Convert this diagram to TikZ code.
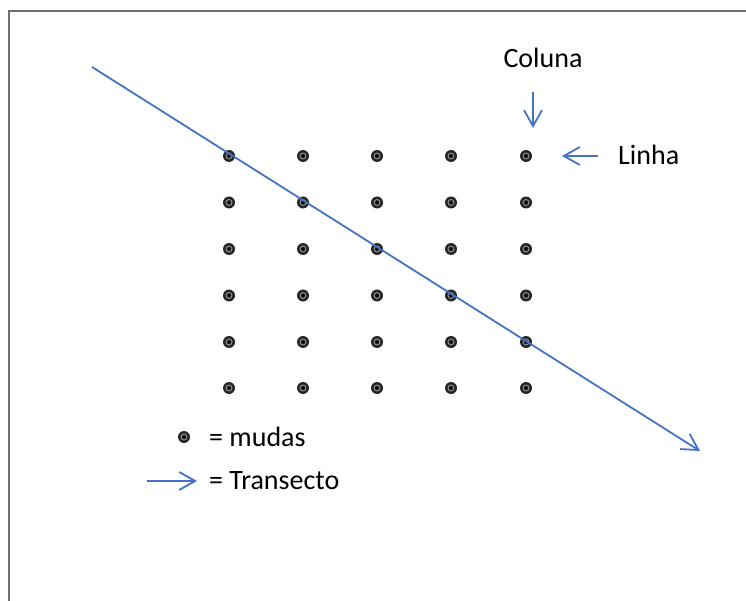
\documentclass[tikz,border=0pt]{standalone}
\usepackage{fontspec}
\setmainfont{Carlito}
\usetikzlibrary{arrows.meta}
\definecolor{officeblue}{HTML}{4472C4}
\definecolor{framegray}{HTML}{707070}
\tikzset{
  muda/.style={circle, fill=black!85, minimum size=12pt, inner sep=0pt,
    path picture={\draw[black!35, line width=0.7pt] (path picture bounding box.center) circle (3pt);
                  \fill[black] (path picture bounding box.center) circle (1.5pt);}},
  blueline/.style={draw=officeblue, line width=1.8pt,
    -{Straight Barb[length=16pt,width=18pt,line width=1.8pt]}},
  lbl/.style={font=\fontsize{28}{32}\selectfont, inner sep=0pt, text=black},
  frameline/.style={draw=framegray, line width=2.5pt}
}
\begin{document}
\begin{tikzpicture}[x=1pt,y=-1pt]
\useasboundingbox (0,0) rectangle (746,601);
% frame
\coordinate (fbl) at (9,603);
\coordinate (ftl) at (9,11);
\coordinate (ftr) at (748,11);
\draw[frameline] (fbl) -- (ftl) -- (ftr);
% grid of mudas
\foreach \c/\x in {1/229,2/303,3/377,4/451,5/526}{
  \foreach \r/\y in {1/156,2/202.5,3/249,4/295.5,5/342,6/388}{
    \node[muda] (d\r\c) at (\x,\y) {};
  }
}
% transect
\coordinate (ts) at (92,67);
\coordinate (te) at (700,451);
\draw[blueline] (ts) -- (te);
% labels
\node[lbl, anchor=base] (coluna) at (543,68) {Coluna};
\coordinate (cs) at (533,92);
\coordinate (ce) at (533,128);
\draw[blueline] (cs) -- (ce);
\node[lbl, anchor=base west] (linha) at (618,165) {Linha};
\coordinate (ls) at (598,156);
\coordinate (le) at (562,156);
\draw[blueline] (ls) -- (le);
% legend
\node[muda] (legdot) at (184,437) {};
\node[lbl, anchor=base west] (mudas) at (209,446) {= mudas};
\coordinate (as) at (147,481);
\coordinate (ae) at (197,481);
\draw[blueline] (as) -- (ae);
\node[lbl, anchor=base west] (transecto) at (209,489) {= Transecto};
\end{tikzpicture}
\end{document}
